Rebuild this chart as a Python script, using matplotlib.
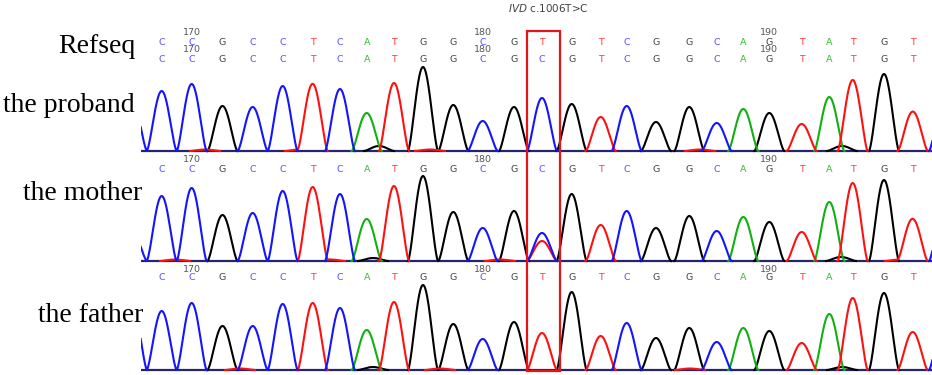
import numpy as np
import matplotlib
matplotlib.use("Agg")
import matplotlib.pyplot as plt
from matplotlib.patches import Rectangle

# ---------------- data ----------------
ref_seq = list("CCGCCTCATGGCGTGTCGGCAGTATGT")
positions = list(range(169, 196))
scan_pos = [161.7, 191.7, 222.5, 252.7, 282.7, 312.7, 340.0, 366.7, 394.0, 423.0, 453.3,
            482.7, 514.0, 542.0, 571.7, 600.7, 626.7, 656.0, 689.3, 716.7, 743.3, 769.3,
            801.7, 829.3, 852.7, 884.0, 912.7]
mut_index = 13
title_gene = "IVD"
title_var = "c.1006T>C"
sample_names = ["the proband", "the mother", "the father"]

proband_calls = list("CCGCCTCATGGCGCGTCGGCAGTATGT")
proband_heights = [60, 67, 45, 44, 65, 67, 62, 38, 68, 84, 46, 30, 44, 53, 47, 34, 45, 29,
                   44, 28, 42, 38, 27, 54, 71, 77, 38]
mother_calls = list("CCGCCTCATGGCGCGTCGGCAGTATGT")
mother_heights = [65, 73, 46, 48, 70, 74, 67, 42, 75, 85, 49, 33, 50, 28, 67, 36, 50, 33,
                  45, 30, 44, 39, 29, 59, 78, 81, 42]
mother_second_base = "T"
mother_second_height = 20
father_calls = list("CCGCCTCATGGCGTGTCGGCAGTATGT")
father_heights = [59, 67, 44, 44, 66, 67, 62, 40, 68, 85, 46, 31, 48, 37, 78, 34, 47, 32,
                  42, 28, 42, 39, 27, 56, 72, 77, 38]

# partial peaks just outside the shown window
edge_scan = [132, 944]
edge_calls = ["C", "C"]
proband_edge = [50, 50]
mother_edge = [30, 50]
father_edge = [65, 50]

# small background bumps (scan, base, height)
proband_noise = [(379, "G", 5), (842, "G", 5), (205, "T", 1.5), (300, "T", 1.5),
                 (430, "T", 1.5), (700, "T", 1.5), (915, "T", 1.5)]
mother_noise = [(373, "G", 3), (841, "G", 4), (175, "T", 1.5), (330, "T", 1.5),
                (500, "T", 1.5), (900, "T", 1.5)]
father_noise = [(373, "G", 3), (842, "G", 3), (240, "T", 1.5), (440, "T", 1.5),
                (690, "T", 1.5)]

# ---------------- style ----------------
W, H = 932, 375
trace_col = {"A": "#10b010", "C": "#1414ff", "G": "#000000", "T": "#ff1010"}
letter_col = {"A": "#2fc02f", "C": "#5555ff", "G": "#444444", "T": "#ff3b3b"}
X0, X1 = 141, 932
HALF = 15.0

fig = plt.figure(figsize=(W / 100, H / 100), dpi=100)
fig.patch.set_facecolor("white")

x = np.arange(100, 980, 0.25)


def peak(center, h):
    d = np.abs(x - center)
    y = np.zeros_like(x)
    m = d < HALF
    y[m] = h * np.cos(np.pi * d[m] / (2 * HALF)) ** 1.5
    return y


def build(calls, heights, edge_h, noise, extra=None):
    tr = {b: np.zeros_like(x) for b in "ACGT"}
    for s, b, h in zip(scan_pos, calls, heights):
        tr[b] += peak(s, h)
    for s, b, h in zip(edge_scan, edge_calls, edge_h):
        tr[b] += peak(s, h)
    for s, b, h in noise:
        tr[b] += peak(s, h)
    if extra:
        s, b, h = extra
        tr[b] += peak(s, h)
    return tr


def masked(y):
    pos = y > 1e-9
    keep = pos.copy()
    keep[1:] |= pos[:-1]
    keep[:-1] |= pos[1:]
    return np.where(keep, y, np.nan)


panels = [
    (151, 126, build(proband_calls, proband_heights, proband_edge, proband_noise)),
    (261, 108, build(mother_calls, mother_heights, mother_edge, mother_noise,
                     (scan_pos[mut_index], mother_second_base, mother_second_height))),
    (370, 108, build(father_calls, father_heights, father_edge, father_noise)),
]

axes = []
for (base, top, tr) in panels:
    ax = fig.add_axes([X0 / W, 1 - (base + 2) / H, (X1 - X0) / W, (top + 2) / H])
    ax.set_xlim(X0, X1)
    ax.set_ylim(-2, top)
    ax.axis("off")
    ax.axhline(-0.3, color="#25256e", lw=1.6, zorder=1)
    for b in ["G", "A", "T", "C"]:
        ax.plot(x, masked(tr[b]), color=trace_col[b], lw=1.5, zorder=2,
                solid_joinstyle="round")
    axes.append(ax)


def put_row(ax, calls, y_letter, y_num):
    for s, b, p in zip(scan_pos, calls, positions):
        ax.text(s, y_letter, b, color=letter_col[b], fontsize=6.8, ha="center", va="center",
                family="DejaVu Sans", clip_on=False)
        if p % 10 == 0:
            ax.text(s, y_num, str(p), color="#555555", fontsize=6.8, ha="center", va="center",
                    family="DejaVu Sans")


# proband panel: reference row + proband row
put_row(axes[0], ref_seq, 108.7, 118.9)
put_row(axes[0], proband_calls, 91, 101.2)
put_row(axes[1], mother_calls, 92, 101)
put_row(axes[2], father_calls, 92, 101)

# overlay for the mutation box
ov = fig.add_axes([X0 / W, 0, (X1 - X0) / W, 1])
ov.set_xlim(X0, X1)
ov.set_ylim(H, 0)
ov.axis("off")
ov.add_patch(Rectangle((scan_pos[mut_index] - 15, 31), 33, 340, fill=False,
                       edgecolor="#e3141b", lw=1.6))

# title
fig.text(548 / W, 1 - 8 / H, r"$\mathit{" + title_gene + "}$ " + title_var, fontsize=7.5,
         color="#404040", ha="center", va="center")

# left labels
serif = ["Liberation Serif", "DejaVu Serif"]
fig.text(135 / W, 1 - 53 / H, "Refseq", family=serif, fontsize=20, ha="right", va="baseline")
label_pos = [(135, 111.5), (142, 200), (143, 321.5)]
for name, (lx, ly) in zip(sample_names, label_pos):
    fig.text(lx / W, 1 - ly / H, name, family=serif, fontsize=20, ha="right", va="baseline")

fig.savefig("out.png", dpi=100, facecolor="white")
